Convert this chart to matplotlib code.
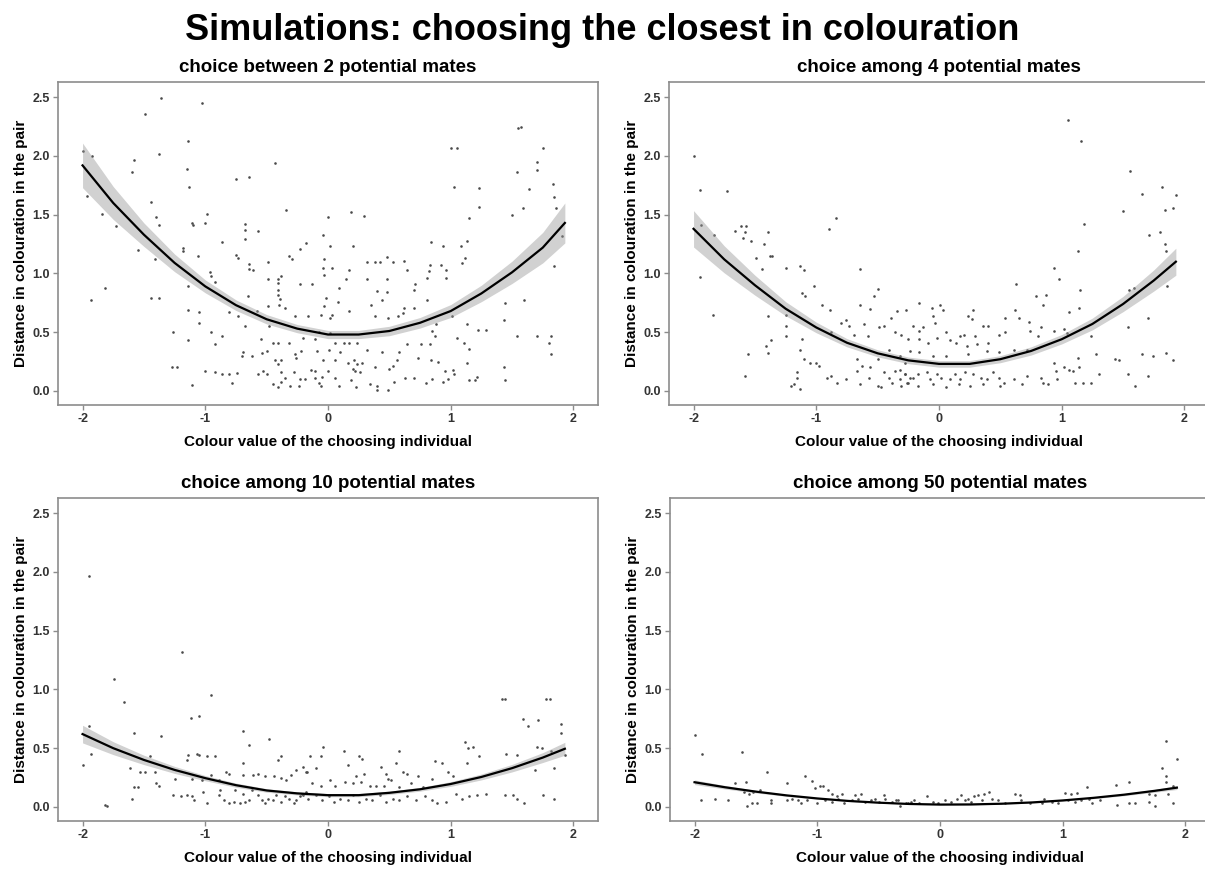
import numpy as np
import matplotlib.pyplot as plt

fig_title = "Simulations: choosing the closest in colouration"
panel_titles = ["choice between 2 potential mates", "choice among 4 potential mates",
                "choice among 10 potential mates", "choice among 50 potential mates"]
x_label = "Colour value of the choosing individual"
y_label = "Distance in colouration in the pair"
x_ticks = [-2, -1, 0, 1, 2]
y_ticks = [0.0, 0.5, 1.0, 1.5, 2.0, 2.5]

# quadratic fit (value and half width of the grey band)
fit_x = [-2.0, -1.75, -1.5, -1.25, -1.0, -0.75, -0.5, -0.25, 0.0, 0.25, 0.5, 0.75, 1.0, 1.25, 1.5, 1.75, 1.93]
fit_2 = [1.92, 1.60, 1.33, 1.09, 0.89, 0.73, 0.61, 0.53, 0.48, 0.48, 0.51, 0.58, 0.68, 0.83, 1.01, 1.22, 1.43]
band_2 = [0.19, 0.14, 0.10, 0.075, 0.055, 0.045, 0.04, 0.035, 0.035, 0.035, 0.04, 0.045, 0.055, 0.07, 0.095, 0.13, 0.17]
fit_4 = [1.38, 1.12, 0.90, 0.70, 0.54, 0.41, 0.32, 0.26, 0.23, 0.23, 0.27, 0.34, 0.44, 0.57, 0.74, 0.94, 1.10]
band_4 = [0.155, 0.115, 0.085, 0.06, 0.045, 0.035, 0.03, 0.028, 0.028, 0.028, 0.03, 0.035, 0.04, 0.05, 0.065, 0.09, 0.115]
fit_10 = [0.62, 0.50, 0.40, 0.315, 0.245, 0.185, 0.14, 0.115, 0.10, 0.10, 0.12, 0.15, 0.195, 0.255, 0.33, 0.42, 0.495]
band_10 = [0.075, 0.055, 0.04, 0.03, 0.022, 0.018, 0.015, 0.013, 0.013, 0.013, 0.014, 0.016, 0.02, 0.025, 0.032, 0.042, 0.055]
fit_50 = [0.21, 0.167, 0.13, 0.098, 0.072, 0.051, 0.036, 0.025, 0.02, 0.021, 0.027, 0.038, 0.055, 0.077, 0.104, 0.137, 0.164]
band_50 = [0.02, 0.015, 0.011, 0.008, 0.006, 0.005, 0.004, 0.004, 0.004, 0.004, 0.004, 0.005, 0.006, 0.007, 0.009, 0.012, 0.016]

# simulated pairs (colour value, distance)
pts_2 = [(-1.36,2.49),(-1.03,2.45),(-1.49,2.36),(-1.38,2.02),(-1.14,2.13),(-1.92,2.00),(-2.0,2.04),(-1.58,1.97),
    (-1.60,1.86),(-1.15,1.89),(-0.43,1.94),(-0.75,1.80),(-0.64,1.82),(-1.13,1.74),(-1.44,1.61),(-1.96,1.66),
    (-1.84,1.51),(-0.99,1.51),(-1.11,1.43),(-1.10,1.41),(-1.0,1.43),(-1.40,1.48),(-1.38,1.41),(-1.73,1.40),
    (-0.68,1.42),(-0.68,1.37),(-0.68,1.29),(-0.57,1.36),(-0.34,1.54),(-0.86,1.27),(-1.18,1.22),(-1.18,1.19),
    (-1.55,1.20),(-1.41,1.12),(-1.06,1.15),(-0.75,1.16),(-0.73,1.13),(-0.64,1.08),(-0.61,1.03),(-0.49,1.10),
    (-0.32,1.15),(-0.29,1.12),(-0.23,1.21),(-0.18,1.26),(-0.96,1.01),(-0.95,0.98),(-0.92,0.93),(-0.64,1.04),
    (-0.49,0.95),(-0.41,0.95),(-0.41,0.92),(-0.38,0.98),(-0.23,0.91),(-1.14,0.89),(-1.82,0.88),(-1.93,0.77),
    (-1.44,0.79),(-1.38,0.79),(-0.65,0.81),(-0.41,0.86),(-0.41,0.82),(-0.39,0.78),(-0.40,0.73),(-0.49,0.72),
    (-0.81,0.67),(-0.73,0.64),(-0.58,0.68),(-0.35,0.71),(-1.14,0.69),(-1.05,0.67),(-1.05,0.58),(-0.68,0.55),
    (-0.48,0.55),(-0.27,0.64),(-1.26,0.50),(-0.95,0.50),(-0.86,0.47),(-1.14,0.43),(-0.92,0.40),(-0.55,0.44),
    (-0.45,0.41),(-0.41,0.41),(-0.32,0.41),(-0.20,0.45),(-0.69,0.33),(-0.70,0.30),(-0.62,0.30),(-0.54,0.32),
    (-0.50,0.34),(-0.43,0.26),(-0.41,0.23),(-0.38,0.26),(-0.27,0.31),(-0.26,0.28),(-0.22,0.34),(-1.27,0.20),
    (-1.23,0.20),(-1.0,0.17),(-0.92,0.16),(-0.86,0.14),(-0.81,0.14),(-0.74,0.15),(-0.57,0.14),(-0.53,0.17),
    (-0.50,0.14),(-0.38,0.16),(-0.35,0.11),(-0.38,0.08),(-0.28,0.16),(-0.23,0.10),(-0.24,0.04),(-1.11,0.05),
    (-0.45,0.06),(-0.41,0.03),(-0.31,0.04),(-0.78,0.07),(-0.19,0.10),
    (1.55,2.24),(1.57,2.25),(1.0,2.07),(1.05,2.07),(1.75,2.07),(1.03,1.74),(1.23,1.73),(1.70,1.95),(1.70,1.88),
    (1.54,1.86),(1.83,1.76),(1.84,1.65),(1.64,1.72),(1.59,1.56),(1.50,1.50),(1.86,1.56),(1.23,1.57),(1.15,1.47),
    (0.19,1.52),(0.29,1.49),(0.0,1.48),(-0.04,1.33),(0.02,1.23),(0.20,1.23),(0.84,1.27),(0.94,1.23),(1.08,1.23),
    (1.13,1.28),(1.12,1.13),(1.09,1.09),(-0.03,1.12),(-0.04,1.05),(0.03,1.05),(0.17,1.03),(0.15,0.95),(0.32,1.10),
    (0.38,1.10),(0.42,1.10),(0.48,1.14),(0.53,1.10),(0.62,1.11),(0.64,1.03),(0.83,1.07),(0.82,1.02),(0.81,0.96),
    (0.92,1.07),(0.96,1.03),(0.96,0.96),(-0.03,0.99),(0.32,0.95),(0.48,0.95),(-0.13,0.91),(0.09,0.88),(0.71,0.91),
    (0.70,0.86),(0.40,0.85),(0.48,0.84),(-0.02,0.79),(-0.03,0.72),(0.08,0.76),(0.17,0.68),(0.44,0.77),(0.35,0.73),
    (0.62,0.71),(0.70,0.71),(0.81,0.77),(1.01,0.64),(1.44,0.75),(1.60,0.77),(-0.16,0.64),(0.02,0.62),(0.03,0.65),
    (-0.06,0.65),(0.38,0.64),(0.49,0.62),(0.57,0.64),(0.61,0.66),(0.88,0.57),(0.85,0.51),(0.87,0.47),(1.13,0.57),
    (1.22,0.52),(1.29,0.52),(1.43,0.60),(1.54,0.47),(1.70,0.47),(1.82,0.47),(1.80,0.41),(1.82,0.31),(-0.07,0.50),
    (0.02,0.49),(-0.11,0.44),(0.06,0.41),(0.13,0.41),(0.17,0.41),(0.24,0.41),(0.64,0.40),(0.76,0.40),(0.83,0.40),
    (1.05,0.45),(1.11,0.41),(1.15,0.36),(0.01,0.35),(0.10,0.33),(-0.09,0.34),(0.32,0.35),(0.44,0.33),(0.56,0.26),
    (0.58,0.33),(0.73,0.28),(0.84,0.26),(0.90,0.25),(1.13,0.24),(-0.04,0.26),(0.06,0.26),(0.16,0.24),(0.21,0.26),
    (0.24,0.23),(0.28,0.24),(0.38,0.20),(0.50,0.19),(0.53,0.21),(-0.14,0.18),(-0.11,0.17),(0.0,0.17),(0.20,0.19),
    (0.22,0.17),(0.26,0.16),(0.95,0.17),(1.02,0.18),(1.03,0.14),(1.43,0.20),(-0.11,0.11),(-0.07,0.07),(-0.06,0.04),
    (-0.05,0.12),(0.06,0.11),(0.09,0.04),(0.19,0.09),(0.23,0.03),(0.34,0.06),(0.40,0.04),(0.40,0.01),(0.54,0.08),
    (0.63,0.11),(0.70,0.11),(0.80,0.07),(0.85,0.10),(0.94,0.08),(0.98,0.10),(1.15,0.09),(1.20,0.09),(1.21,0.12),
    (1.44,0.09),(0.49,0.01),(1.91,1.32),(1.84,1.06)]

pts_4 = [(-2.0,2.0),(-1.95,1.71),(-1.73,1.70),(-1.94,1.41),(-1.83,1.33),(-1.95,0.97),(-1.84,0.65),(-1.66,1.36),
    (-1.61,1.40),(-1.57,1.40),(-1.58,1.35),(-1.60,1.30),(-1.53,1.28),(-1.49,1.13),(-1.43,1.25),(-1.39,1.35),
    (-1.38,1.15),(-1.36,1.15),(-1.44,1.04),(-1.25,1.05),(-1.13,1.06),(-1.10,1.03),(-1.02,0.89),(-0.90,1.38),
    (-0.84,1.47),(-0.64,1.04),(-0.50,0.87),(-0.53,0.81),(-1.12,0.83),(-1.09,0.81),(-1.39,0.64),(-1.25,0.65),
    (-0.95,0.73),(-0.89,0.69),(-0.64,0.73),(-0.56,0.70),(-1.25,0.55),(-1.25,0.47),(-1.37,0.43),(-1.56,0.31),
    (-1.41,0.38),(-1.39,0.32),(-1.58,0.13),(-1.12,0.44),(-1.13,0.35),(-1.10,0.27),(-1.05,0.24),(-1.0,0.24),
    (-0.98,0.21),(-1.16,0.16),(-1.16,0.11),(-1.21,0.04),(-1.13,0.02),(-1.18,0.06),(-0.91,0.11),(-0.88,0.13),
    (-0.83,0.07),(-0.76,0.10),(-0.88,0.50),(-0.80,0.58),(-0.76,0.60),(-0.73,0.55),(-0.69,0.48),(-0.61,0.57),
    (-0.58,0.47),(-0.49,0.54),(-0.45,0.55),(-0.36,0.50),(-0.31,0.48),(-0.39,0.62),(-0.34,0.68),(-0.27,0.69),
    (-0.67,0.27),(-0.63,0.21),(-0.56,0.20),(-0.50,0.27),(-0.67,0.17),(-0.64,0.06),(-0.57,0.11),(-0.50,0.04),
    (-0.45,0.16),(-0.41,0.11),(-0.36,0.17),(-0.32,0.10),(-0.28,0.14),(-0.24,0.11),(-0.47,0.03),(-0.38,0.07),
    (-0.31,0.04),(-0.25,0.07),(-0.41,0.35),(-0.32,0.30),(-0.28,0.24),
    (1.05,2.31),(1.16,2.13),(1.56,1.87),(1.82,1.74),(1.65,1.68),(1.93,1.67),(1.84,1.54),(1.91,1.56),(1.50,1.53),
    (1.18,1.42),(1.71,1.33),(1.80,1.35),(1.84,1.25),(1.85,1.19),(1.13,1.19),(0.94,1.05),(0.98,0.95),(0.63,0.91),
    (0.79,0.81),(0.87,0.82),(1.15,0.86),(1.55,0.86),(1.59,0.88),(1.86,0.89),(0.85,0.73),(1.14,0.71),(1.06,0.67),
    (1.70,0.62),(-0.16,0.75),(-0.06,0.71),(0.01,0.73),(0.03,0.69),(0.28,0.69),(0.24,0.64),(0.27,0.61),(0.62,0.69),
    (0.54,0.62),(0.65,0.62),(-0.05,0.64),(-0.03,0.58),(-0.21,0.55),(-0.13,0.54),(-0.16,0.51),(0.06,0.50),(0.17,0.47),
    (0.20,0.48),(0.29,0.47),(0.36,0.55),(0.40,0.55),(0.49,0.48),(0.54,0.50),(0.73,0.59),(0.74,0.51),(0.83,0.54),
    (0.94,0.51),(1.02,0.53),(1.04,0.49),(1.24,0.47),(1.54,0.54),(-0.25,0.44),(-0.16,0.44),(-0.09,0.41),(-0.02,0.45),
    (0.09,0.43),(0.14,0.41),(0.23,0.38),(0.31,0.40),(0.40,0.41),(0.61,0.35),(0.72,0.35),(0.81,0.47),(-0.24,0.34),
    (-0.16,0.33),(-0.05,0.30),(0.06,0.30),(0.24,0.31),(0.39,0.34),(0.49,0.33),(0.94,0.24),(1.13,0.28),(1.28,0.31),
    (1.43,0.27),(1.47,0.26),(1.65,0.31),(1.74,0.30),(1.85,0.32),(1.91,0.26),(1.02,0.20),(1.06,0.18),(1.09,0.17),
    (1.14,0.20),(0.95,0.17),(0.96,0.10),(1.54,0.14),(1.70,0.13),(1.60,0.04),(1.30,0.14),
    (-0.32,0.18),(-0.28,0.14),(-0.21,0.11),(-0.17,0.14),(-0.10,0.16),(-0.07,0.10),(-0.02,0.14),(0.02,0.11),
    (0.09,0.10),(0.13,0.14),(0.17,0.10),(0.21,0.16),(0.28,0.14),(0.34,0.11),(0.39,0.10),(0.44,0.16),(0.49,0.11),
    (0.53,0.07),(-0.26,0.07),(-0.17,0.04),(-0.05,0.06),(0.06,0.03),(0.16,0.06),(0.25,0.04),(0.36,0.06),(0.50,0.04),
    (0.61,0.10),(0.68,0.06),(0.72,0.13),(0.83,0.11),(0.85,0.07),(0.89,0.06),(1.11,0.07),(1.17,0.07),(1.24,0.07)]

pts_10 = [(-1.95,1.97),(-2.0,0.355),(-1.95,0.69),(-1.93,0.45),(-1.82,0.02),(-1.80,0.01),(-1.74,1.09),(-1.66,0.89),
    (-1.58,0.63),(-1.61,0.33),(-1.58,0.17),(-1.55,0.17),(-1.60,0.07),(-1.53,0.30),(-1.49,0.30),(-1.36,0.60),
    (-1.45,0.43),(-1.41,0.30),(-1.40,0.20),(-1.38,0.18),(-1.25,0.24),(-1.26,0.10),(-1.20,0.09),(-1.19,1.32),
    (-1.12,0.76),(-1.05,0.77),(-0.95,0.95),(-1.14,0.44),(-1.15,0.40),(-1.07,0.45),(-1.05,0.44),(-0.99,0.43),
    (-0.92,0.43),(-1.11,0.24),(-1.03,0.23),(-1.02,0.13),(-1.15,0.10),(-1.11,0.09),(-1.09,0.06),(-0.99,0.03),
    (-0.95,0.27),(-0.89,0.23),(-0.88,0.14),(-0.89,0.10),(-0.83,0.30),(-0.81,0.28),(-0.69,0.65),(-0.69,0.37),
    (-0.64,0.53),(-0.48,0.58),(-0.41,0.40),(-0.38,0.43),(-0.69,0.27),(-0.61,0.27),(-0.57,0.28),(-0.51,0.26),
    (-0.44,0.26),(-0.38,0.25),(-0.34,0.23),(-0.30,0.27),(-0.26,0.31),(-0.20,0.34),(-0.18,0.30),(-0.85,0.06),
    (-0.81,0.03),(-0.77,0.04),(-0.72,0.03),(-0.68,0.04),(-0.64,0.06),(-0.76,0.14),(-0.69,0.11),(-0.62,0.14),
    (-0.57,0.10),(-0.54,0.06),(-0.51,0.03),(-0.49,0.07),(-0.45,0.06),(-0.42,0.10),(-0.38,0.04),(-0.35,0.09),
    (-0.32,0.07),(-0.28,0.03),(-0.26,0.06),(-0.23,0.09),(-0.20,0.10),(-0.18,0.13),
    (1.42,0.915),(1.44,0.915),(1.78,0.92),(1.81,0.92),(1.59,0.75),(1.63,0.69),(1.71,0.74),(1.90,0.71),(1.90,0.63),
    (1.12,0.55),(1.14,0.50),(1.18,0.51),(1.23,0.43),(1.13,0.37),(1.45,0.45),(1.54,0.44),(1.70,0.51),(1.74,0.50),
    (1.82,0.48),(1.84,0.33),(1.69,0.31),(1.93,0.44),(-0.04,0.51),(-0.06,0.43),(-0.15,0.43),(0.13,0.48),(0.25,0.43),
    (0.28,0.41),(0.16,0.36),(0.58,0.48),(0.55,0.37),(0.43,0.34),(-0.17,0.30),(-0.10,0.33),(0.23,0.26),(0.29,0.28),
    (0.47,0.28),(0.49,0.24),(0.61,0.30),(0.64,0.28),(0.87,0.39),(0.93,0.37),(0.73,0.26),(0.85,0.24),(0.98,0.30),
    (1.02,0.26),(-0.13,0.20),(-0.06,0.18),(0.02,0.23),(0.06,0.18),(0.14,0.21),(0.20,0.20),(0.27,0.21),(0.34,0.18),
    (0.39,0.18),(0.46,0.18),(0.51,0.23),(0.58,0.17),(0.68,0.20),(0.77,0.17),(-0.21,0.11),(-0.16,0.07),(-0.10,0.10),
    (-0.05,0.06),(0.01,0.09),(0.05,0.04),(0.10,0.07),(0.16,0.06),(0.20,0.10),(0.25,0.04),(0.31,0.07),(0.36,0.06),
    (0.42,0.10),(0.47,0.04),(0.53,0.07),(0.58,0.06),(0.64,0.09),(0.72,0.06),(0.79,0.09),(0.85,0.06),(0.89,0.03),
    (0.96,0.04),(1.04,0.11),(1.09,0.07),(1.15,0.09),(1.21,0.10),(1.29,0.11),(1.44,0.10),(1.51,0.10),(1.54,0.07),
    (1.60,0.03),(1.75,0.10),(1.84,0.07)]

pts_50 = [(-2.0,0.61),(-1.94,0.45),(-1.61,0.47),(-1.41,0.30),(-1.10,0.26),(-1.04,0.22),(-1.25,0.20),(-1.58,0.21),
    (-1.67,0.20),(-1.95,0.06),(-1.83,0.07),(-1.73,0.06),(-1.60,0.13),(-1.56,0.11),(-1.52,0.13),(-1.47,0.14),
    (-1.57,0.01),(-1.53,0.03),(-1.49,0.03),(-1.38,0.06),(-1.38,0.03),(-1.25,0.06),(-1.21,0.07),(-1.16,0.06),
    (-1.13,0.03),(-1.08,0.06),(-1.02,0.16),(-0.98,0.18),(-0.95,0.18),(-0.91,0.14),(-0.88,0.11),(-0.84,0.09),
    (-0.80,0.11),(-1.0,0.03),(-0.94,0.06),(-0.88,0.04),(-0.83,0.07),(-0.78,0.03),(-0.72,0.06),(-0.67,0.07),
    (-0.61,0.04),(-0.56,0.06),(-0.50,0.04),(-0.45,0.07),(-0.39,0.04),(-0.34,0.06),(-0.28,0.03),(-0.24,0.04),
    (-0.69,0.10),(-0.64,0.11),(-0.53,0.07),(-0.46,0.10),(-0.36,0.06),
    (1.84,0.56),(1.93,0.41),(1.81,0.33),(1.84,0.26),(1.84,0.21),(1.43,0.19),(1.54,0.21),(1.20,0.17),(1.90,0.18),
    (1.70,0.11),(1.75,0.10),(1.86,0.11),(1.70,0.04),(1.75,0.01),(1.90,0.03),(1.44,0.02),(1.54,0.03),(1.59,0.03),
    (1.02,0.12),(1.07,0.11),(1.12,0.12),(1.30,0.06),(1.24,0.03),(-0.33,0.01),(-0.26,0.03),(-0.21,0.06),(-0.17,0.03),
    (-0.11,0.09),(-0.06,0.04),(-0.02,0.03),(0.04,0.06),(0.09,0.04),(0.14,0.07),(0.20,0.06),(0.25,0.04),(0.31,0.10),
    (0.36,0.11),(0.40,0.13),(0.42,0.07),(0.47,0.06),(0.53,0.03),(0.61,0.11),(0.65,0.10),(0.66,0.06),(0.73,0.03),
    (0.83,0.03),(0.85,0.07),(0.91,0.04),(0.96,0.03),(1.04,0.06),(1.10,0.04),(1.15,0.06),(1.21,0.07),(0.17,0.10),
    (0.23,0.07),(0.28,0.09),(0.34,0.06)]

plt.rcParams['font.family'] = ['Liberation Sans', 'DejaVu Sans']
W, H = 1205, 869
fig = plt.figure(figsize=(W / 100, H / 100), dpi=100)

# left / top of each panel in pixels
corners = [(58, 82), (669, 82), (58, 498), (670, 498)]
pw, ph = 540, 323
panels = [(pts_2, fit_2, band_2), (pts_4, fit_4, band_4), (pts_10, fit_10, band_10), (pts_50, fit_50, band_50)]
edge = '#8c8c8c'

for (l, t), title, (pts, fit, band) in zip(corners, panel_titles, panels):
    ax = fig.add_axes([l / W, 1 - (t + ph) / H, pw / W, ph / H])
    px, py = np.array(pts).T
    ax.scatter(px, py, s=3.5, color='#4a4a4a', linewidths=0, zorder=2)
    fx = np.array(fit_x)
    fy = np.array(fit)
    fb = np.array(band)
    ax.fill_between(fx, fy - fb, fy + fb, color='#999999', alpha=0.45, linewidth=0, zorder=3)
    ax.plot(fx, fy, color='black', lw=1.6, zorder=4)
    ax.set_xlim(-2.2, 2.2)
    ax.set_ylim(-0.12, 2.63)
    ax.set_xticks(x_ticks)
    ax.set_xticklabels([str(v) for v in x_ticks])
    ax.set_yticks(y_ticks)
    ax.set_yticklabels(['%.1f' % v for v in y_ticks])
    for s in ax.spines.values():
        s.set_color(edge)
        s.set_linewidth(1.2)
    ax.tick_params(colors=edge, length=3.5, width=1, labelsize=9, labelcolor='#333333', pad=2.5)
    for lab in ax.get_xticklabels() + ax.get_yticklabels():
        lab.set_fontweight('bold')
    ax.set_title(title, fontsize=13.5, fontweight='bold', pad=7)
    ax.set_xlabel(x_label, fontsize=11, fontweight='bold', labelpad=7)
    ax.set_ylabel(y_label, fontsize=11, fontweight='bold', labelpad=3)

fig.text(0.5, 1 - 30 / H, fig_title, ha='center', va='center', fontsize=26, fontweight='bold')

fig.savefig('out.png', dpi=100)
